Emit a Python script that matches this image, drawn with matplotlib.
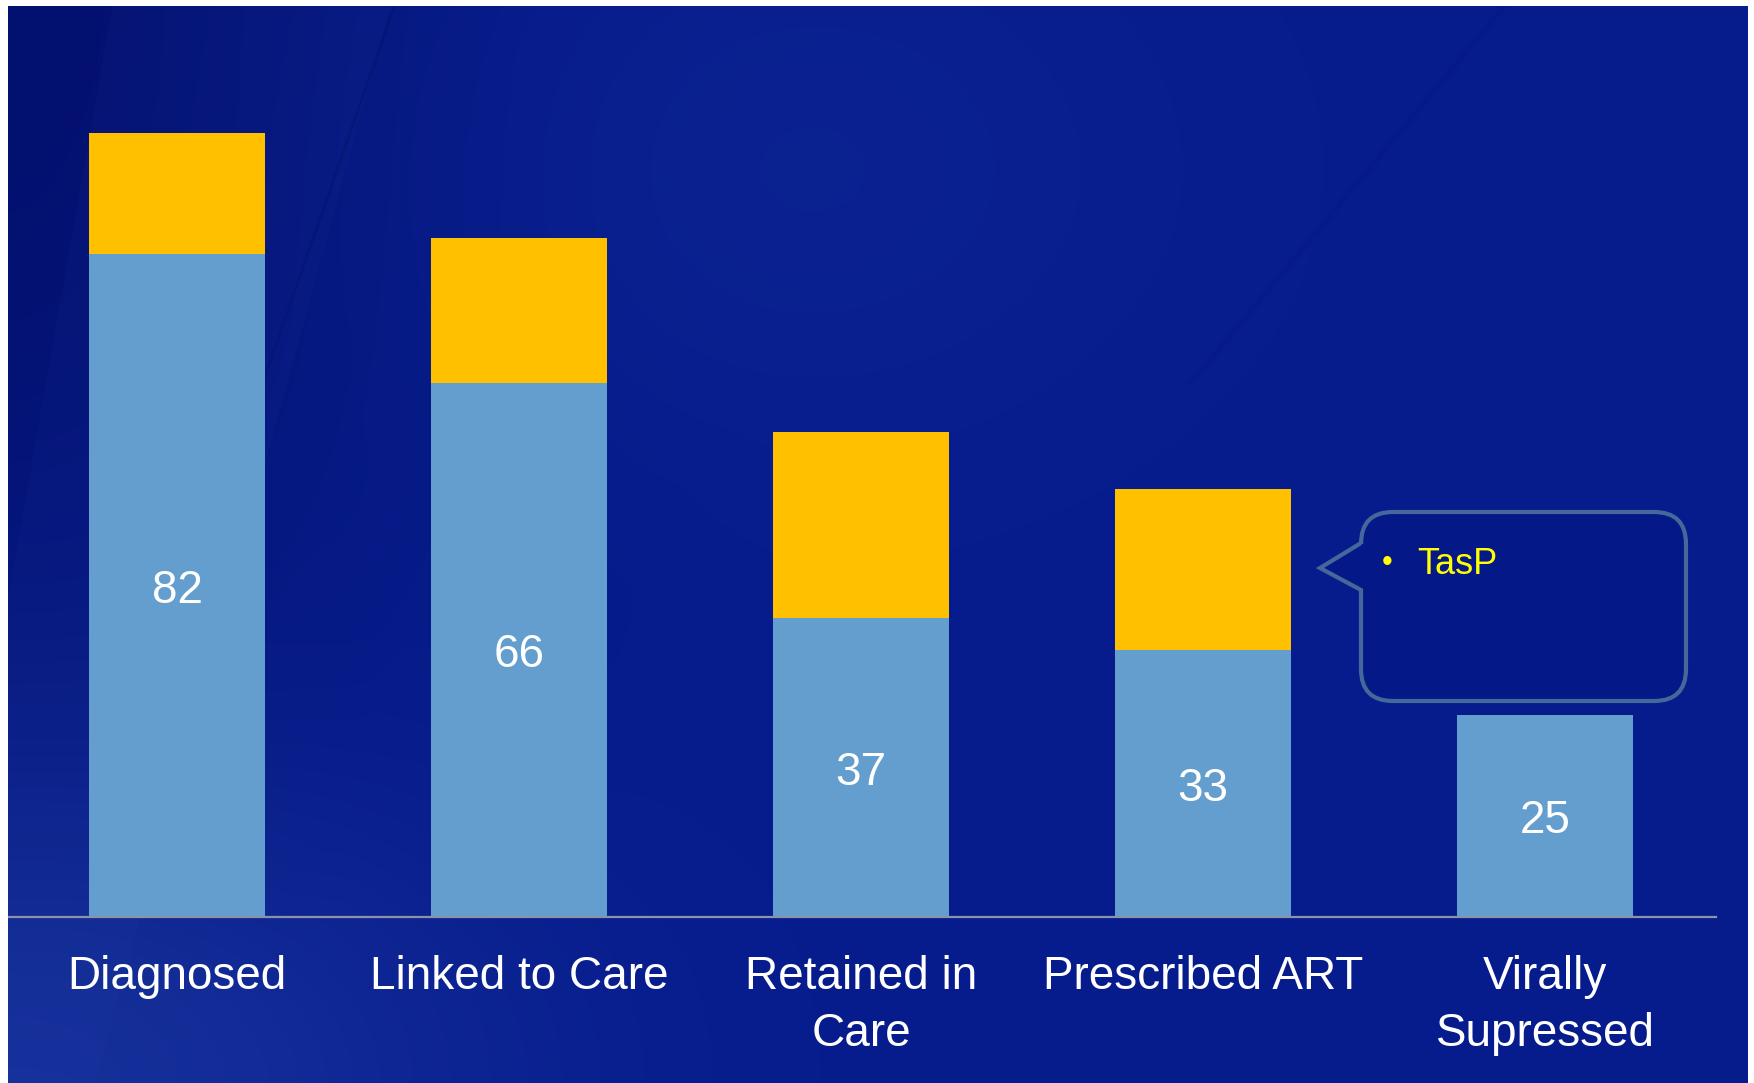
import numpy as np
import matplotlib
matplotlib.use('Agg')
import matplotlib.pyplot as plt
from matplotlib.path import Path
from matplotlib.patches import PathPatch, Polygon

plt.rcParams['font.family'] = ['Liberation Sans', 'DejaVu Sans']

# data
stages = ['Diagnosed', 'Linked to Care', 'Retained in\nCare', 'Prescribed ART', 'Virally\nSupressed']
achieved = [82, 66, 37, 33, 25]
gap = [15, 18, 23, 20, 0]

W, H = 1754, 1083
fig = plt.figure(figsize=(W / 100, H / 100), dpi=100, facecolor='white')

# slide background (dark blue gradient with faint streaks)
bg = fig.add_axes([8 / W, 0, (1748 - 8) / W, 1 - 6 / H])
bg.set_axis_off()
u, v = np.meshgrid(np.linspace(0, 1, 400), np.linspace(0, 1, 300))
mid = np.array([6, 27, 140]) / 255
dark = np.array([2, 14, 106]) / 255
light = np.array([24, 52, 160]) / 255
w_dark = 0.85 * np.exp(-(u / 0.22) ** 2 - (v / 0.7) ** 2)
w_light = 0.9 * np.exp(-(u / 0.28) ** 2 - ((1 - v) / 0.3) ** 2)
w_mid = 0.25 * np.exp(-((u - 0.45) / 0.25) ** 2 - ((v - 0.15) / 0.3) ** 2)
img = mid + (dark - mid) * w_dark[..., None] + (light - mid) * w_light[..., None] \
    + (light - mid) * w_mid[..., None]
bg.imshow(np.clip(img, 0, 1), extent=[0, 1, 1, 0], aspect='auto', interpolation='bilinear')
bg.set_xlim(0, 1)
bg.set_ylim(1, 0)
bg.add_patch(Polygon([[0.06, 0], [0.22, 0], [0.05, 1], [0, 1], [0, 0.55]],
                     closed=True, color='#3050c0', alpha=0.06, lw=0))
bg.plot([0.222, 0.06], [0, 0.75], color='#020c60', alpha=0.25, lw=2)
bg.plot([0.86, 0.68], [0, 0.35], color='#020c60', alpha=0.07, lw=4)

# bar chart
ax = fig.add_axes([9 / W, 0.153, (1716 - 9) / W, 0.747])
ax.patch.set_alpha(0)
x = np.arange(len(stages))
ax.bar(x, achieved, width=0.515, color='#639ECF', zorder=2)
ax.bar(x, gap, width=0.515, bottom=achieved, color='#FFC000', zorder=2)
for i, val in enumerate(achieved):
    ax.text(x[i], val / 2, str(val), ha='center', va='center_baseline', fontsize=33,
            color='white', zorder=3)

ax.set_xlim(-0.492, 4.5)
ax.set_ylim(0, 100)
ax.set_yticks([])
ax.set_xticks(x)
ax.set_xticklabels(stages, fontsize=33, color='white', linespacing=1.38)
ax.tick_params(axis='x', length=0, pad=27)
for s in ['top', 'left', 'right']:
    ax.spines[s].set_visible(False)
ax.spines['bottom'].set_color('#8C93A8')
ax.spines['bottom'].set_linewidth(1.6)

# callout box
ov = fig.add_axes([0, 0, 1, 1])
ov.set_axis_off()
ov.patch.set_alpha(0)
ov.set_xlim(0, W)
ov.set_ylim(H, 0)
L, R, T, B, r = 1361, 1686, 512, 701, 32
verts = [(L, 543), (1320, 568), (L, 590), (L, B - r), (L, B), (L + r, B),
         (R - r, B), (R, B), (R, B - r), (R, T + r), (R, T), (R - r, T),
         (L + r, T), (L, T), (L, T + r), (L, 543)]
codes = [Path.MOVETO, Path.LINETO, Path.LINETO, Path.LINETO, Path.CURVE3, Path.CURVE3,
         Path.LINETO, Path.CURVE3, Path.CURVE3, Path.LINETO, Path.CURVE3, Path.CURVE3,
         Path.LINETO, Path.CURVE3, Path.CURVE3, Path.CLOSEPOLY]
ov.add_patch(PathPatch(Path(verts, codes), facecolor='#051888', edgecolor='#45689A', lw=3))
ov.text(1387, 563, '•', fontsize=22, color='#FFFF00', ha='center', va='center')
ov.text(1417, 565, 'TasP', fontsize=26, color='#FFFF00', ha='left', va='center')

fig.savefig('out.png', dpi=100, facecolor='white')
